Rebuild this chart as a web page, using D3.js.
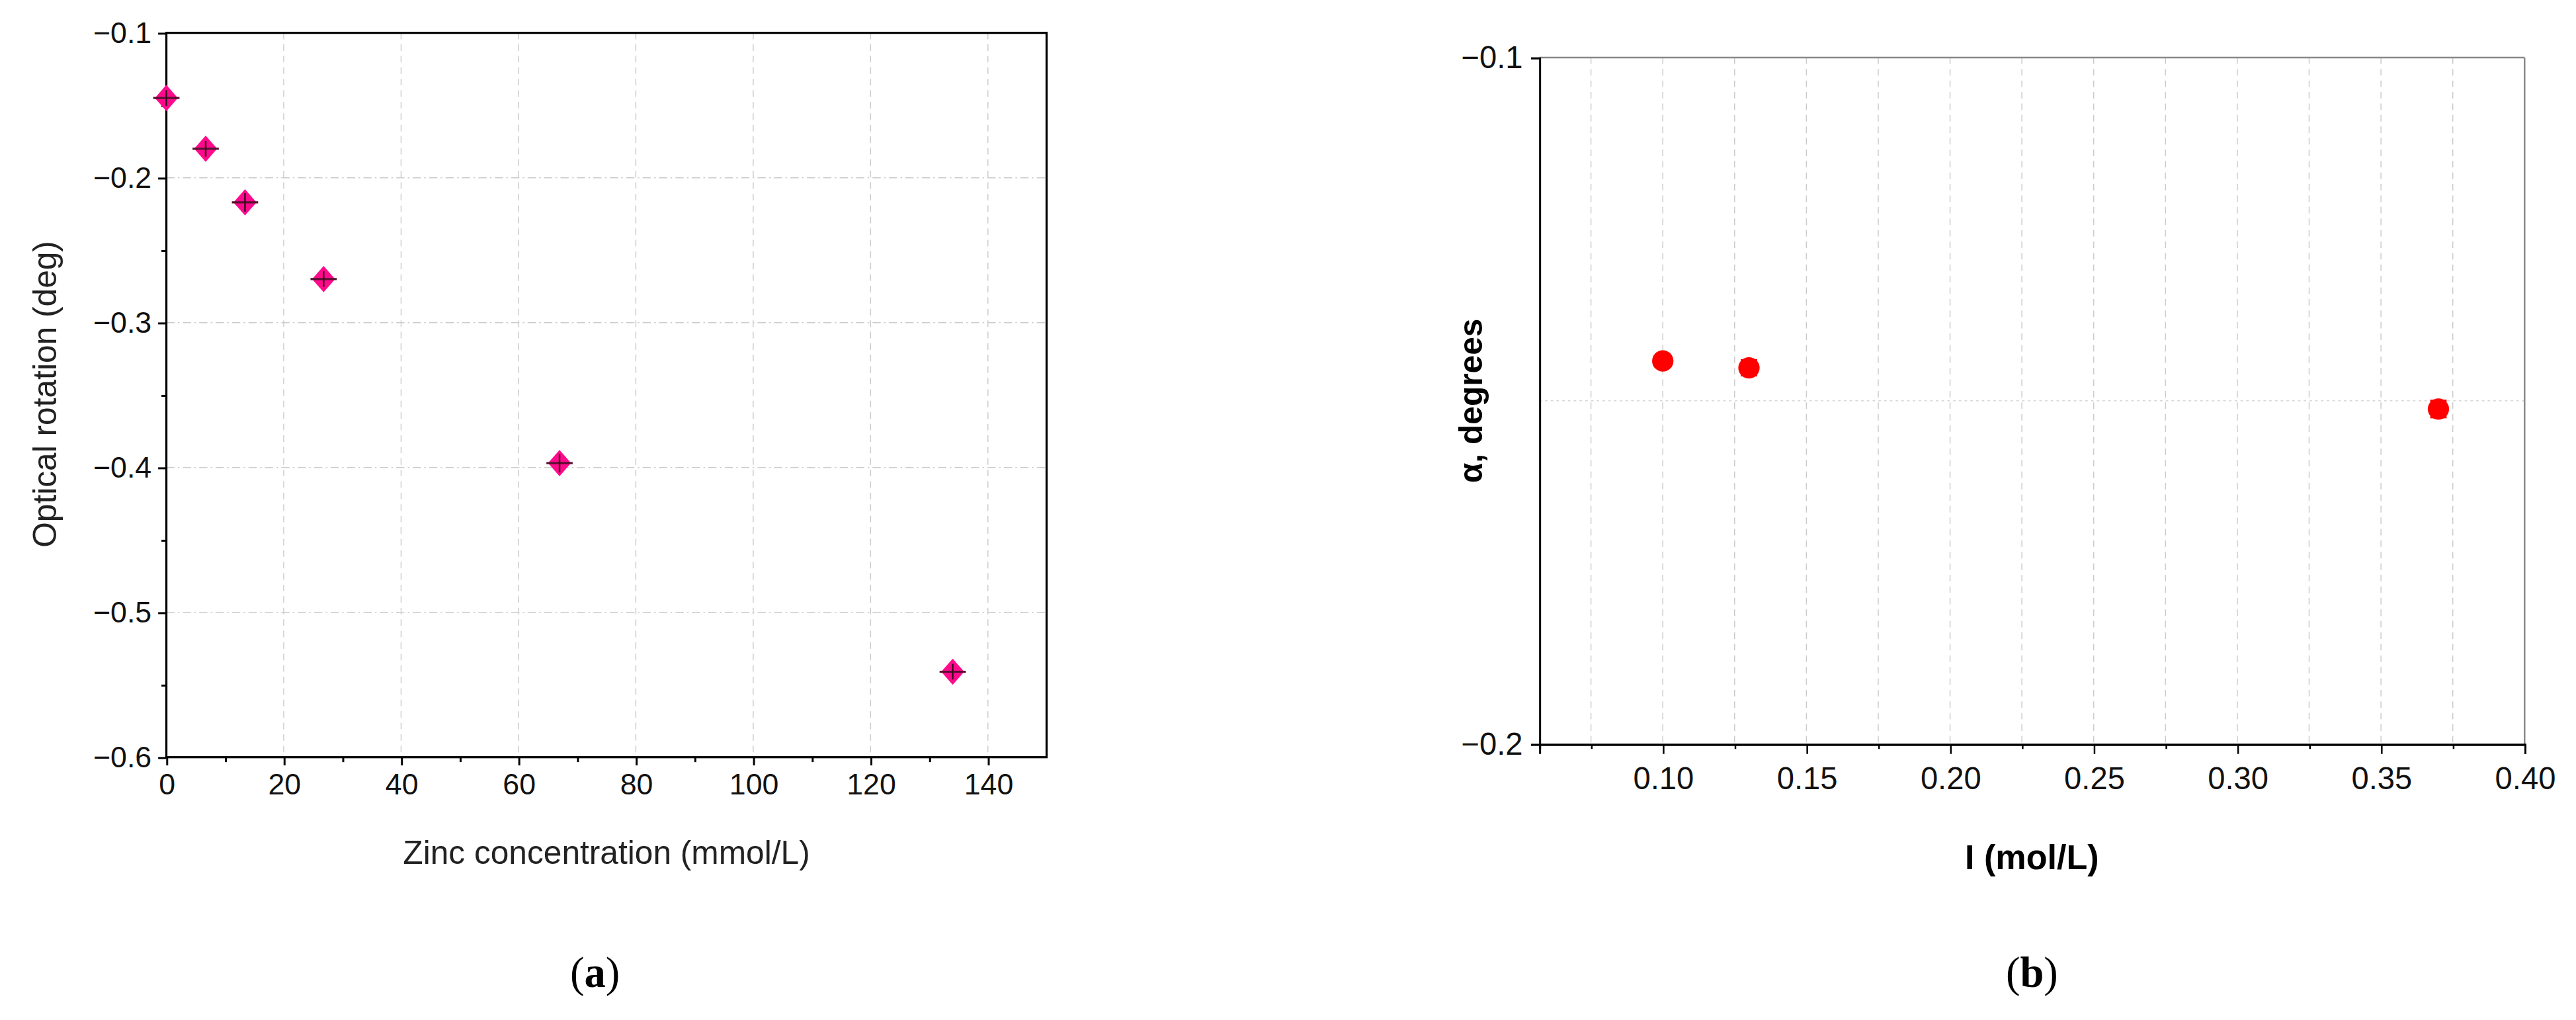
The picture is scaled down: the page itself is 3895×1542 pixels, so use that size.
<!DOCTYPE html>
<html><head><meta charset="utf-8">
<script src="https://cdn.jsdelivr.net/npm/d3@7"></script>
<style>body{margin:0;background:#fff}svg{display:block}</style>
</head><body>
<svg id="chart" width="3895" height="1542" viewBox="0 0 1568 621"></svg>
<script>
// panel (a)
const zincConc = [0, 6.7, 13.4, 26.8, 67, 134];
const rotation = [-0.145, -0.180, -0.217, -0.270, -0.397, -0.541];
const rotErr = [0.002, 0.002, 0.003, 0.002, 0.003, 0.002];
const aXTicks = [0, 20, 40, 60, 80, 100, 120, 140];
const aYTicks = [-0.1, -0.2, -0.3, -0.4, -0.5, -0.6];
// panel (b)
const ionic = [0.10, 0.13, 0.37];
const alpha = [-0.1442, -0.1452, -0.1512];
const alphaErr = [0.0003, 0.0011, 0.0012];
const bXTicks = [0.10, 0.15, 0.20, 0.25, 0.30, 0.35, 0.40];
const bYTicks = [-0.1, -0.2];

const svg = d3.select("#chart");
const font = "Arial, 'Liberation Sans', sans-serif";
const minus = v => d3.format(".1f")(v).replace("-", "\u2212");

// ---- (a)
const xa = d3.scaleLinear().domain([0, 150]).range([101, 637]);
const ya = d3.scaleLinear().domain([-0.6, -0.1]).range([461, 20]);
const ga = svg.append("g");

ga.selectAll(".gx").data(d3.range(0, 151, 20)).enter().append("line")
  .attr("x1", d => xa(d)).attr("x2", d => xa(d)).attr("y1", 20).attr("y2", 461)
  .attr("stroke", "#ccc").attr("stroke-width", 0.6).attr("stroke-dasharray", "4,3");
ga.selectAll(".gy").data(aYTicks).enter().append("line")
  .attr("x1", 101).attr("x2", 637).attr("y1", d => ya(d)).attr("y2", d => ya(d))
  .attr("stroke", "#ccc").attr("stroke-width", 0.6).attr("stroke-dasharray", "5,2,1,2");

ga.append("rect").attr("x", 101).attr("y", 20).attr("width", 536).attr("height", 441)
  .attr("fill", "none").attr("stroke", "#000").attr("stroke-width", 1.3);

ga.append("g").attr("transform", "translate(0,461)")
  .call(d3.axisBottom(xa).tickValues(aXTicks).tickSize(5).tickPadding(5));
ga.append("g").attr("transform", "translate(0,461)")
  .call(d3.axisBottom(xa).tickValues(d3.range(10, 150, 20)).tickSize(3).tickFormat(""));
ga.append("g").attr("transform", "translate(101,0)")
  .call(d3.axisLeft(ya).tickValues(aYTicks).tickSize(5).tickPadding(4).tickFormat(minus));
ga.append("g").attr("transform", "translate(101,0)")
  .call(d3.axisLeft(ya).tickValues(d3.range(-0.55, -0.1, 0.1)).tickSize(3).tickFormat(""));
ga.selectAll(".domain").remove();
ga.selectAll(".tick line").attr("stroke", "#000").attr("stroke-width", 1.2);
ga.selectAll(".tick text").attr("font-family", font).attr("font-size", 18).attr("fill", "#111");

// error bars + diamonds
zincConc.forEach((c, i) => {
  const cx = xa(c), cy = ya(rotation[i]);
  ga.append("path").attr("d", "M0,-8L7,0L0,8L-7,0Z")
    .attr("transform", `translate(${cx},${cy})`).attr("fill", "#ff0a8c");
  ga.append("line").attr("x1", cx - 8).attr("x2", cx + 8).attr("y1", cy).attr("y2", cy)
    .attr("stroke", "#5a1030").attr("stroke-width", 1.3);
  ga.append("line").attr("x1", cx).attr("x2", cx)
    .attr("y1", ya(rotation[i] + rotErr[i]) - 3).attr("y2", ya(rotation[i] - rotErr[i]) + 3)
    .attr("stroke", "#3a0a20").attr("stroke-width", 1);
});

ga.append("text").attr("x", 369).attr("y", 526).attr("text-anchor", "middle")
  .attr("font-family", font).attr("font-size", 20).attr("fill", "#222").text("Zinc concentration (mmol/L)");
ga.append("text").attr("transform", "translate(34,240) rotate(-90)").attr("text-anchor", "middle")
  .attr("font-family", font).attr("font-size", 20).attr("fill", "#222").text("Optical rotation (deg)");
ga.append("text").attr("x", 362).attr("y", 601).attr("text-anchor", "middle")
  .attr("font-family", "'Liberation Serif', serif").attr("font-size", 26).html("(<tspan font-weight='bold'>a</tspan>)");

// ---- (b)
const xb = d3.scaleLinear().domain([0.057, 0.40]).range([937, 1537]);
const yb = d3.scaleLinear().domain([-0.2, -0.1]).range([453, 35]);
const gb = svg.append("g");

gb.selectAll(".gx").data(d3.range(0.075, 0.4, 0.025)).enter().append("line")
  .attr("x1", d => xb(d)).attr("x2", d => xb(d)).attr("y1", 35).attr("y2", 453)
  .attr("stroke", "#ccc").attr("stroke-width", 0.6).attr("stroke-dasharray", "4,3");
gb.append("line").attr("x1", 937).attr("x2", 1537).attr("y1", yb(-0.15)).attr("y2", yb(-0.15))
  .attr("stroke", "#ccc").attr("stroke-width", 0.6).attr("stroke-dasharray", "1.5,2");
gb.append("line").attr("x1", 937).attr("x2", 1537).attr("y1", 35).attr("y2", 35).attr("stroke", "#888").attr("stroke-width", 1);
gb.append("line").attr("x1", 1537).attr("x2", 1537).attr("y1", 35).attr("y2", 453).attr("stroke", "#888").attr("stroke-width", 1);

gb.append("g").attr("transform", "translate(0,453)")
  .call(d3.axisBottom(xb).tickValues(bXTicks).tickSize(6).tickPadding(8).tickFormat(d3.format(".2f")));
gb.append("g").attr("transform", "translate(0,453)")
  .call(d3.axisBottom(xb).tickValues(d3.range(0.075, 0.4, 0.05)).tickSize(3).tickFormat(""));
gb.append("g").attr("transform", "translate(937,0)")
  .call(d3.axisLeft(yb).tickValues(bYTicks).tickSize(5).tickPadding(5).tickFormat(minus));
gb.selectAll(".domain").attr("stroke", "#000").attr("stroke-width", 1.2);
gb.selectAll(".tick line").attr("stroke", "#000").attr("stroke-width", 1);
gb.selectAll(".tick text").attr("font-family", font).attr("font-size", 19).attr("fill", "#111");

ionic.forEach((v, i) => {
  const cx = xb(v), cy = yb(alpha[i]);
  const y1 = yb(alpha[i] + alphaErr[i]), y2 = yb(alpha[i] - alphaErr[i]);
  gb.append("line").attr("x1", cx).attr("x2", cx).attr("y1", y1).attr("y2", y2).attr("stroke", "red").attr("stroke-width", 1.2);
  [y1, y2].forEach(y => gb.append("line").attr("x1", cx - 5).attr("x2", cx + 5).attr("y1", y).attr("y2", y)
    .attr("stroke", "red").attr("stroke-width", 1.3));
  gb.append("circle").attr("cx", cx).attr("cy", cy).attr("r", 6.5).attr("fill", "red");
});

gb.append("text").attr("x", 1237).attr("y", 529).attr("text-anchor", "middle")
  .attr("font-family", font).attr("font-weight", "bold").attr("font-size", 21).text("I (mol/L)");
gb.append("text").attr("transform", "translate(902,244) rotate(-90)").attr("text-anchor", "middle")
  .attr("font-family", font).attr("font-weight", "bold").attr("font-size", 20).text("\u03B1, degrees");
gb.append("text").attr("x", 1237).attr("y", 601).attr("text-anchor", "middle")
  .attr("font-family", "'Liberation Serif', serif").attr("font-size", 26).html("(<tspan font-weight='bold'>b</tspan>)");
</script>
</body></html>
